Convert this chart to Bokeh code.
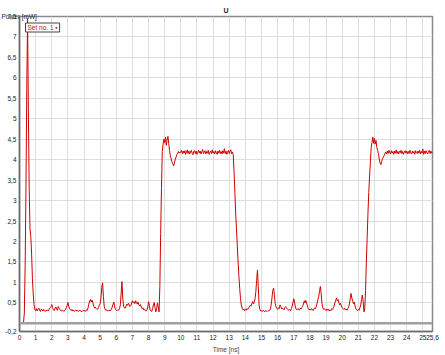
import numpy as np
from bokeh.plotting import figure
from bokeh.models import Range1d, FixedTicker, Span, Label, Title
from bokeh.embed import file_html
from bokeh.resources import INLINE

STEP = 0.05  # sample spacing [ns]

# ---- measured signal, in segments (start time, values) ----
spike_start = 0.00
spike = [0.00, 0.00, 0.01, 0.01, 0.02, 0.03, 0.25, 1.4, 3.3, 5.7,
         7.45, 5.2, 3.3, 2.3, 2.12, 1.7, 1.1, 0.72, 0.46, 0.34]

base1_start = 1.00
base1 = [0.31, 0.36, 0.30, 0.34, 0.37, 0.31, 0.29, 0.35, 0.33, 0.30,
         0.34, 0.31, 0.29, 0.32, 0.30, 0.33, 0.31, 0.35, 0.38, 0.40,
         0.46, 0.39, 0.33, 0.31, 0.36, 0.40, 0.34, 0.32, 0.41, 0.37,
         0.33, 0.31, 0.30, 0.33, 0.31, 0.29, 0.32, 0.34, 0.38, 0.43,
         0.51, 0.42, 0.36, 0.33, 0.31, 0.34, 0.30, 0.32, 0.29, 0.31,
         0.33, 0.30, 0.31, 0.29, 0.32, 0.30, 0.31, 0.28, 0.30, 0.32,
         0.30, 0.31, 0.29, 0.33, 0.32, 0.38, 0.47, 0.55, 0.58, 0.52,
         0.57, 0.50, 0.42, 0.38, 0.40, 0.36, 0.34, 0.35, 0.38, 0.45,
         0.48, 0.62, 0.88, 0.99, 0.66, 0.42, 0.35, 0.32, 0.33, 0.30,
         0.31, 0.33, 0.30, 0.32, 0.35, 0.40, 0.47, 0.52, 0.40, 0.34,
         0.32, 0.31, 0.33, 0.32, 0.36, 0.45, 0.72, 1.02, 0.62, 0.42,
         0.38, 0.37, 0.42, 0.47, 0.44, 0.49, 0.45, 0.41, 0.43, 0.50,
         0.55, 0.50, 0.53, 0.48, 0.55, 0.51, 0.47, 0.52, 0.45, 0.42,
         0.46, 0.40, 0.36, 0.38, 0.33, 0.35, 0.31, 0.30, 0.33, 0.40,
         0.53, 0.44, 0.32, 0.30, 0.29, 0.36, 0.45, 0.51, 0.38, 0.28,
         0.36, 0.50, 0.40, 0.28]

rise1_start = 8.70
rise1 = [0.9, 2.2, 3.3, 4.2, 4.38, 4.5, 4.42, 4.55, 4.35, 4.48,
         4.57, 4.40, 4.22, 4.10, 4.02, 3.95, 3.90, 3.85, 3.92, 4.00,
         4.06, 4.12, 4.15, 4.20, 4.16, 4.19]

plateau1_start = 10.00
plateau1 = [4.18, 4.23, 4.14, 4.21, 4.16, 4.22, 4.13, 4.19, 4.24, 4.15,
            4.21, 4.14, 4.18, 4.23, 4.16, 4.12, 4.20, 4.22, 4.15, 4.21,
            4.13, 4.18, 4.23, 4.16, 4.21, 4.14, 4.19, 4.25, 4.15, 4.18,
            4.22, 4.14, 4.20, 4.16, 4.23, 4.13, 4.18, 4.21, 4.15, 4.24,
            4.16, 4.20, 4.14, 4.22, 4.17, 4.13, 4.21, 4.16, 4.23, 4.15,
            4.20, 4.14, 4.22, 4.16, 4.27, 4.15, 4.21, 4.13, 4.18, 4.23,
            4.15, 4.21, 4.24, 4.14, 4.19, 4.12]

fall_start = 13.30
fall = [3.7, 3.2, 2.7, 2.3, 1.9, 1.5, 1.15, 0.85, 0.6, 0.45, 0.37]

base2_start = 13.85
base2 = [0.33, 0.35, 0.31, 0.34, 0.32, 0.36, 0.34, 0.38,
         0.40, 0.44, 0.42, 0.48, 0.53, 0.47, 0.52, 0.60, 0.78, 1.05,
         1.30, 0.90, 0.45, 0.34,
         0.30, 0.31, 0.29, 0.32, 0.30, 0.28, 0.31, 0.30, 0.29, 0.31, 0.30,
         0.32, 0.35, 0.45, 0.62, 0.80, 0.86, 0.70, 0.48, 0.40, 0.37,
         0.34, 0.38, 0.36, 0.45, 0.41, 0.35, 0.37, 0.36, 0.33, 0.38,
         0.41, 0.38, 0.35, 0.33, 0.32, 0.34, 0.31, 0.36, 0.42, 0.50,
         0.60, 0.52, 0.40, 0.34, 0.33, 0.36, 0.35, 0.32, 0.37, 0.35,
         0.39, 0.42, 0.47, 0.55, 0.50, 0.56, 0.49, 0.42, 0.36, 0.33,
         0.35, 0.32, 0.36, 0.34, 0.31, 0.35, 0.38, 0.36, 0.42, 0.50,
         0.58, 0.66, 0.80, 0.90, 0.72, 0.48, 0.38, 0.34, 0.36, 0.33,
         0.31, 0.35, 0.32, 0.34, 0.30, 0.33, 0.31, 0.36, 0.34, 0.38,
         0.42, 0.50, 0.56, 0.62, 0.55, 0.58, 0.50, 0.45, 0.49, 0.43,
         0.38, 0.36, 0.34, 0.37, 0.33, 0.35, 0.32, 0.36, 0.40, 0.47,
         0.60, 0.73, 0.62, 0.55, 0.48, 0.52, 0.42, 0.36, 0.33, 0.31,
         0.34, 0.32, 0.38, 0.45, 0.58, 0.69, 0.55, 0.28, 0.35, 0.80]

rise2_start = 21.50
rise2 = [1.5, 2.1, 2.7, 3.2, 3.6, 3.95, 4.3, 4.42, 4.55, 4.4,
         4.52, 4.38, 4.47, 4.30, 4.22, 4.15, 4.02, 3.92, 3.88, 3.95,
         4.02, 4.06, 4.10, 4.15, 4.19, 4.14]

plateau2_start = 22.80
plateau2 = [4.21, 4.15, 4.23, 4.17, 4.14, 4.22, 4.16, 4.20, 4.13, 4.21,
            4.16, 4.24, 4.15, 4.20, 4.14, 4.21, 4.17, 4.23, 4.15, 4.20,
            4.13, 4.18, 4.22, 4.16, 4.21, 4.14, 4.20, 4.15, 4.23, 4.17,
            4.14, 4.21, 4.16, 4.20, 4.13, 4.22, 4.17, 4.15, 4.21, 4.16,
            4.23, 4.14, 4.20, 4.16, 4.26, 4.13, 4.21, 4.15, 4.22, 4.17,
            4.14, 4.20, 4.23, 4.15, 4.21, 4.16, 4.19]

segments = [(spike_start, spike), (base1_start, base1), (rise1_start, rise1),
            (plateau1_start, plateau1), (fall_start, fall), (base2_start, base2),
            (rise2_start, rise2), (plateau2_start, plateau2)]

x_ticks = list(range(0, 26)) + [25.6]
x_labels = [str(i) for i in range(0, 26)] + ["25,6"]
y_ticks = [-0.2] + [0.5 * i for i in range(1, 16)]
y_labels = ["-0,2"] + [("%g" % (0.5 * i)).replace(".", ",") for i in range(1, 16)]

time, power = [], []
for start, vals in segments:
    time.extend(np.round(start + STEP * np.arange(len(vals)), 3).tolist())
    power.extend(vals)

FONT = "Liberation Sans"
FS = "6.5px"

p = figure(width=445, height=355, output_backend="svg", toolbar_location=None,
           x_range=Range1d(0, 25.6), y_range=Range1d(-0.2, 7.5),
           min_border_left=19, min_border_right=13, min_border_top=16,
           min_border_bottom=22, background_fill_color="white",
           border_fill_color="white")
p.outline_line_color = "#8a8a8a"
p.outline_line_width = 1.5

p.title.text = "U"
p.title.align = "center"
p.title.text_font = FONT
p.title.text_font_size = "7px"
p.title.text_font_style = "bold"
p.title.text_color = "#222222"
p.title.standoff = 2
p.title.offset = -4

for ax in (p.xaxis, p.yaxis):
    ax.axis_line_color = "#6a6a6a"
    ax.axis_line_width = 1.5
    ax.major_tick_out = 0
    ax.major_tick_in = 0
    ax.minor_tick_out = 0
    ax.minor_tick_in = 0
    ax.major_label_text_font = FONT
    ax.major_label_text_font_size = FS
    ax.major_label_text_color = "#222222"
    ax.major_label_standoff = 3

p.xaxis.ticker = FixedTicker(ticks=x_ticks)
p.xaxis.major_label_overrides = dict(zip(x_ticks, x_labels))
p.yaxis.ticker = FixedTicker(ticks=y_ticks)
p.yaxis.major_label_overrides = dict(zip(y_ticks, y_labels))
p.xaxis.axis_label = "Time [ns]"
p.xaxis.axis_label_text_font = FONT
p.xaxis.axis_label_text_font_size = FS
p.xaxis.axis_label_text_font_style = "normal"
p.xaxis.axis_label_standoff = 3

p.xgrid.ticker = FixedTicker(ticks=x_ticks)
p.ygrid.ticker = FixedTicker(ticks=y_ticks)
p.xgrid.grid_line_color = "#dedede"
p.ygrid.grid_line_color = "#dedede"

p.add_layout(Span(location=0, dimension="width", line_color="#a0a0a0", line_width=2.5))

p.line(time, power, line_color="#d00000", line_width=1)

p.add_layout(Title(text="Power [mW]", align="left", offset=-18, standoff=-7,
                   text_font=FONT, text_font_size=FS, text_font_style="normal",
                   text_color="#222222"), "above")

p.add_layout(Label(x=6, y=304, x_units="screen", y_units="screen", text="Set no. 1 \u25aa",
                   text_font=FONT, text_font_size=FS, text_baseline="middle",
                   text_color="#d00000", border_line_color="#444444", border_line_width=1,
                   background_fill_color="white", padding=(2, 1)))

open("out.html", "w").write(file_html(p, INLINE))
